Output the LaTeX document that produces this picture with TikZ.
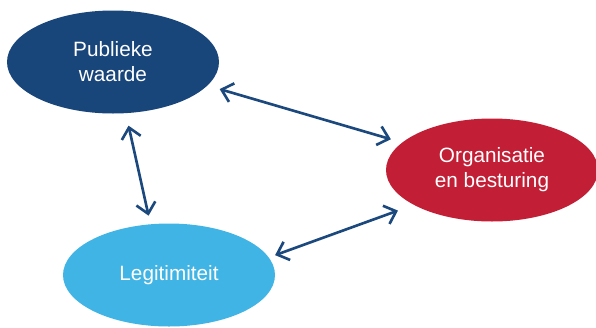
\documentclass[tikz,border=0pt]{standalone}
\usepackage{fontspec}
\setmainfont{Liberation Sans}
\usetikzlibrary{shapes.geometric,arrows.meta}
\definecolor{pwblue}{RGB}{24,69,122}
\definecolor{obred}{RGB}{194,31,54}
\definecolor{lgblue}{RGB}{64,180,228}
\definecolor{linkblue}{RGB}{27,72,125}
\tikzstyle{blob} = [ellipse, minimum width=4.24cm, minimum height=2.06cm, inner sep=0pt, text=white, align=center, font=\fontsize{11.8}{14.2}\selectfont]
\tikzstyle{link} = [{Straight Barb[length=6pt,width=11pt]}-{Straight Barb[length=6pt,width=11pt]}, linkblue, line width=1.5pt]

\begin{document}
\begin{tikzpicture}
    \useasboundingbox (0,0) rectangle (11.92,6.54);
    % Ellipses
    \node[blob, fill=pwblue] (pw) at (2.26,5.30) {Publieke\\waarde};
    \node[blob, fill=obred] (ob) at (9.84,3.14) {Organisatie\\en besturing};
    \node[blob, fill=lgblue] (lg) at (3.38,1.04) {Legitimiteit};

    % Links
    \draw[link, shorten <=0.25cm, shorten >=0.23cm] (pw.-14) -- (ob.163);
    \draw[link, shorten <=0.25cm, shorten >=0.17cm] (pw.-76) -- (lg.110);
    \draw[link, shorten <=0.13cm, shorten >=0.33cm] (lg.10) -- (ob.204);
\end{tikzpicture}
\end{document}
